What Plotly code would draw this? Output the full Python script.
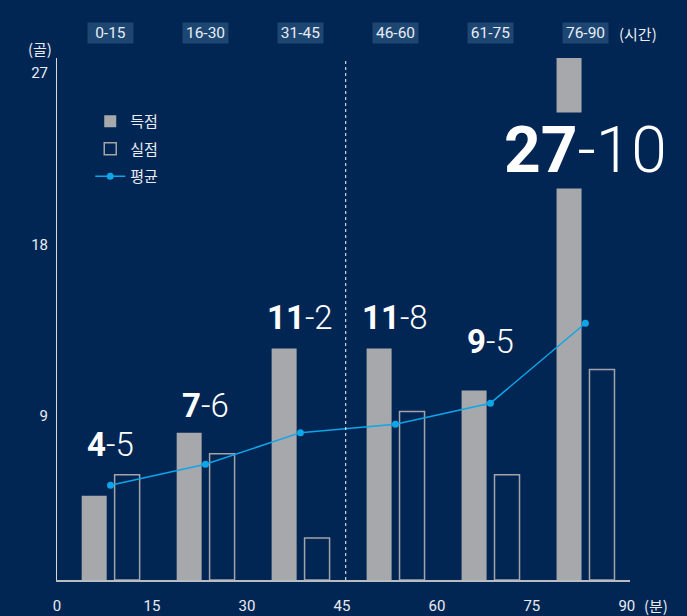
import plotly.graph_objects as go

# ---- data ----
periods = ["0-15", "16-30", "31-45", "46-60", "61-75", "76-90"]
period_start = [0, 15, 30, 45, 60, 75]
scored = [4, 7, 11, 11, 9, 27]
conceded = [5, 6, 2, 8, 5, 10]
average = [4.5, 5.5, 7.0, 7.4, 8.4, 12.2]
goal_ticks = [9, 18, 27]
minute_ticks = [0, 15, 30, 45, 60, 75, 90]
minute_labels = ["0", "15", "30", "45", "60", "75", "90"]
series_names = ["득점", "실점", "평균"]

# ---- style ----
BG = "#022654"
BAR_GRAY = "#a7a8ab"
OUTLINE = "#a3a4a8"
LINE_BLUE = "#0ea5e9"
TXT = "#e9edf3"
FONT = "Roboto, 'Noto Sans CJK KR', sans-serif"
KFONT = "'Noto Sans CJK KR', Roboto, sans-serif"

BAR_W = 3.95
SCORED_OFF = 3.9
CONCEDED_OFF = 9.1
GROUP_OFF = 8.45
group_x = [s + GROUP_OFF for s in period_start]
HALF_TIME_LINE = 45.6

# label placement (data units, vertical centre of score text)
label_y = [6.45, 8.3, 12.45, 12.45, 11.35, 20.4]
label_size = [33, 33, 33, 33, 33, 64]

fig = go.Figure()

fig.add_trace(go.Bar(
    x=period_start, y=scored, name=series_names[0], legendgroup="a",
    offset=SCORED_OFF, width=BAR_W,
    marker=dict(color=BAR_GRAY, line=dict(width=0)),
    hoverinfo="skip",
))
fig.add_trace(go.Bar(
    x=period_start, y=conceded, name=series_names[1], legendgroup="b",
    offset=CONCEDED_OFF, width=BAR_W,
    marker=dict(color="rgba(0,0,0,0)", line=dict(color=OUTLINE, width=1.5)),
    hoverinfo="skip",
))
fig.add_trace(go.Scatter(
    x=group_x, y=average, name=series_names[2], legendgroup="c",
    mode="lines+markers",
    line=dict(color=LINE_BLUE, width=1.5),
    marker=dict(color=LINE_BLUE, size=7),
    hoverinfo="skip",
))
# invisible trace to carry the goal-label axis
fig.add_trace(go.Scatter(
    x=[0], y=[0], yaxis="y2", mode="markers",
    marker=dict(opacity=0), showlegend=False, hoverinfo="skip",
))

annotations = []
# score labels
for i in range(len(periods)):
    annotations.append(dict(
        x=group_x[i], y=label_y[i], xref="x", yref="y",
        text=f"<b>{scored[i]}</b>-{conceded[i]}",
        showarrow=False, xanchor="center", yanchor="middle",
        font=dict(family=FONT, size=label_size[i], color="#ffffff", weight=300),
        bgcolor=BG if i == len(periods) - 1 else None,
        borderpad=0,
    ))
# period boxes on top
for i, p in enumerate(periods):
    annotations.append(dict(
        x=group_x[i], y=1.047, xref="x", yref="paper",
        text=p, showarrow=False, xanchor="center", yanchor="middle",
        font=dict(family=FONT, size=15.5, color=TXT),
        bgcolor="#1d4673", width=45, height=20, borderpad=0,
    ))
annotations.append(dict(
    x=0.977, y=1.047, xref="paper", yref="paper", text="(시간)",
    showarrow=False, xanchor="left", yanchor="middle",
    font=dict(family=KFONT, size=15, color=TXT),
))
annotations.append(dict(
    x=-0.030, y=1.018, xref="paper", yref="paper", text="(골)",
    showarrow=False, xanchor="center", yanchor="middle",
    font=dict(family=KFONT, size=15, color=TXT),
))
annotations.append(dict(
    x=1.021, y=-0.048, xref="paper", yref="paper", text="(분)",
    showarrow=False, xanchor="left", yanchor="middle",
    font=dict(family=KFONT, size=15, color=TXT),
))

fig.update_layout(
    width=687, height=616,
    paper_bgcolor=BG, plot_bgcolor=BG,
    margin=dict(l=57, r=57, t=57.5, b=36, autoexpand=False),
    barmode="overlay",
    showlegend=True,
    legend=dict(
        x=0.058, y=0.91, xanchor="left", yanchor="top",
        bgcolor="rgba(0,0,0,0)",
        font=dict(family=KFONT, size=15, color=TXT),
        itemwidth=30, traceorder="grouped", tracegroupgap=5,
    ),
    xaxis=dict(
        range=[0, 90.5], tickvals=minute_ticks, ticktext=minute_labels,
        showgrid=False, zeroline=False, automargin=False,
        showline=True, linecolor="#b9bcc3", linewidth=2,
        ticks="", ticklabelstandoff=11,
        tickfont=dict(family=FONT, size=15, color=TXT),
    ),
    yaxis=dict(
        range=[0, 24.8], showticklabels=False, showgrid=False, zeroline=False,
        automargin=False,
        showline=True, linecolor="#d6d8dd", linewidth=1, ticks="",
    ),
    yaxis2=dict(
        overlaying="y", side="left", range=[0.42, 27.76], automargin=False,
        tickvals=goal_ticks, showgrid=False, zeroline=False, showline=False,
        ticks="", ticklabelstandoff=8,
        tickfont=dict(family=FONT, size=15, color=TXT),
    ),
    annotations=annotations,
    shapes=[dict(
        type="line", xref="x", yref="paper",
        x0=HALF_TIME_LINE, x1=HALF_TIME_LINE, y0=0, y1=1,
        line=dict(color="#ffffff", width=1, dash="dot"),
    )],
    font=dict(family=FONT, color=TXT),
)

fig.write_html(
    "out.html",
    config={"displayModeBar": False},
    post_script="document.body.style.margin='0';document.body.style.background='" + BG + "';",
)
